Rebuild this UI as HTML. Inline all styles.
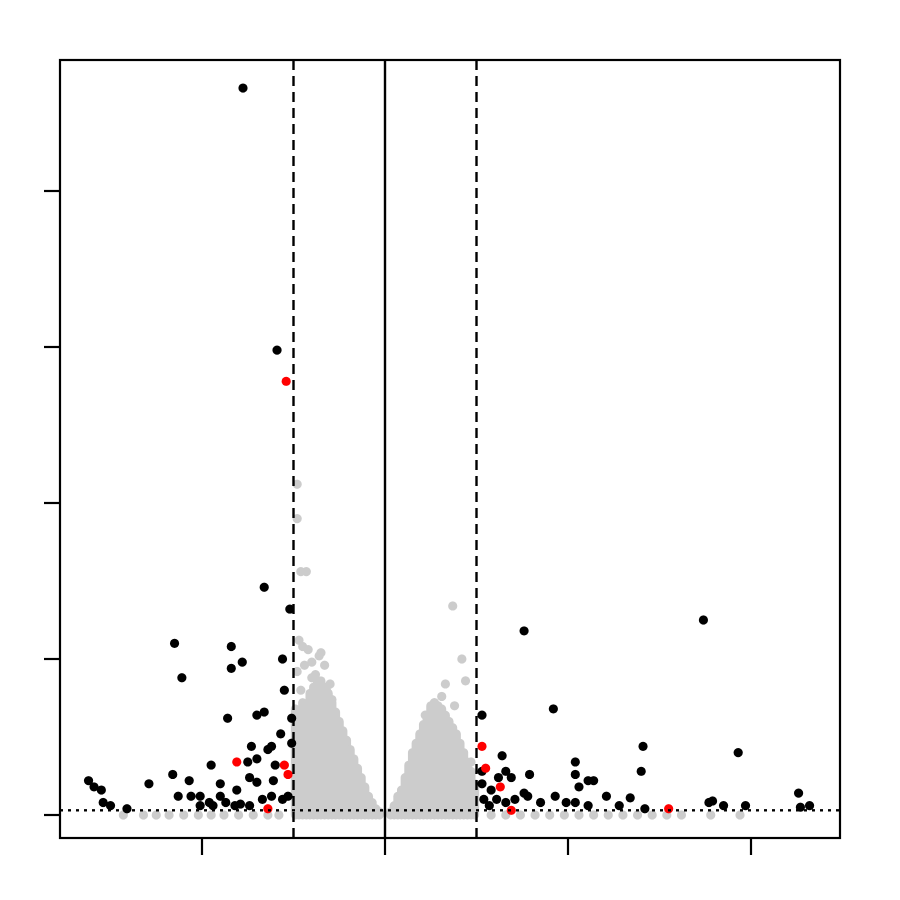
<!DOCTYPE html>
<html><head><meta charset="utf-8"><style>
html,body{margin:0;padding:0;background:#fff}
svg{display:block}
</style></head><body>
<svg id="chart" width="900" height="900" xmlns="http://www.w3.org/2000/svg">
<g id="marks"></g>
<g id="lines"></g>
<rect x="60" y="60" width="780" height="778" fill="none" stroke="#000" stroke-width="2.2"/>
<g id="axes"></g>
</svg>
<script>
// ---- data ----
const xTicks = [-1, 0, 1, 2];
const yTicks = [0, 5, 10, 15, 20];
const foldCut = [-0.5, 0.5];
const sigCut = 0.15;
// gray cloud column tops (x, top y)
const cloudX = [-0.49,-0.47,-0.45,-0.43,-0.41,-0.39,-0.37,-0.35,-0.33,-0.31,-0.29,-0.27,-0.25,-0.23,-0.21,-0.19,-0.17,-0.15,-0.13,-0.11,-0.09,-0.07,-0.05,-0.03,
 0.03,0.05,0.07,0.09,0.11,0.13,0.15,0.17,0.19,0.21,0.23,0.25,0.27,0.29,0.31,0.33,0.35,0.37,0.39,0.41,0.43,0.45,0.47,0.49];
const cloudTop = [3.4,3.0,3.6,3.3,3.9,4.1,4.2,4.3,4.1,3.9,3.6,3.3,3.0,2.7,2.4,2.1,1.8,1.5,1.2,0.9,0.6,0.4,0.2,0.1,
 0.1,0.3,0.6,0.8,1.2,1.6,2.0,2.3,2.6,2.9,3.2,3.5,3.6,3.5,3.4,3.2,3.0,2.8,2.6,2.3,2.0,1.7,1.4,1.0];
const grayX = [-0.48,-0.48,-0.46,-0.43,-0.47,-0.45,-0.42,-0.36,-0.37,-0.35,-0.38,-0.33,-0.40,-0.30,-0.44,-0.48,-0.46,-0.40,-0.32,-0.29,
 0.37,0.42,0.44,0.27,0.38,0.33,0.47,0.31,0.22,
 -1.43,-1.32,-1.25,-1.18,-1.10,-1.02,-0.95,-0.88,-0.80,-0.72,-0.64,-0.58,0.58,0.66,0.74,0.82,0.90,0.98,1.06,1.14,1.22,1.30,1.38,1.46,1.54,1.62,1.78,1.94];
const grayY = [10.6,9.5,7.8,7.8,5.6,5.4,5.3,5.1,4.3,5.2,4.5,4.8,4.4,4.2,4.8,4.6,4.0,4.9,4.0,3.7,
 6.7,5.0,4.3,3.6,3.5,4.2,1.7,3.8,3.2,
 0,0,0,0,0,0,0,0,0,0,0,0,0,0,0,0,0,0,0,0,0,0,0,0,0,0,0,0];
const blackX = [-0.776,-0.59,-0.66,-0.52,-1.15,-0.84,-0.78,-0.84,-0.56,-1.11,-0.55,-0.86,-0.70,-0.66,-0.51,-0.57,-0.62,-0.64,-0.73,-0.51,-0.95,-0.70,-0.75,-0.60,-1.16,-1.29,-1.62,-1.59,-1.55,-1.07,-0.90,-0.81,-0.74,-0.61,-0.70,-1.54,-1.50,-1.41,-1.13,-1.06,-1.01,-1.01,-0.96,-0.90,-0.87,-0.79,-0.74,-0.67,-0.56,-0.53,-0.62,-0.94,-0.82,
 0.76,1.74,0.92,0.53,1.41,1.93,1.04,0.64,1.40,1.04,0.79,0.66,0.53,0.62,0.69,1.11,1.14,1.06,0.53,0.58,0.76,0.78,0.93,1.21,1.34,2.26,1.79,1.77,1.85,1.97,2.27,2.32,0.61,0.66,0.71,0.85,0.99,1.04,1.11,1.28,1.42,0.54,0.57];
const blackY = [23.3,14.9,7.3,6.6,5.5,5.4,4.9,4.7,5.0,4.4,4.0,3.1,3.2,3.3,3.1,2.6,2.2,2.1,2.2,2.3,1.6,1.8,1.7,1.6,1.3,1.0,1.1,0.9,0.8,1.1,1.0,0.8,1.2,1.1,1.05,0.4,0.3,0.2,0.6,0.6,0.6,0.3,0.4,0.6,0.4,0.35,0.3,0.5,0.5,0.6,0.6,0.3,0.3,
 5.9,6.25,3.4,3.2,2.2,2.0,1.7,1.9,1.4,1.3,1.3,1.4,1.4,1.2,1.2,1.1,1.1,0.9,1.0,0.8,0.7,0.6,0.6,0.6,0.55,0.7,0.45,0.4,0.3,0.3,0.25,0.3,0.5,0.4,0.5,0.4,0.4,0.4,0.3,0.3,0.2,0.5,0.3];
const redX = [-0.54,-0.81,-0.55,-0.53,-0.64,0.53,0.55,0.63,0.69,1.55];
const redY = [13.9,1.7,1.6,1.3,0.2,2.2,1.5,0.9,0.15,0.2];

// ---- axis functions ----
const sx = v => 385 + 183 * v;
const sy = v => 815 - 31.2 * v;
const NS = 'http://www.w3.org/2000/svg';
const marks = document.getElementById('marks');
const lines = document.getElementById('lines');
const axes = document.getElementById('axes');
function mk(tag, attrs, parent){ const e=document.createElementNS(NS,tag); for(const k in attrs) e.setAttribute(k,attrs[k]); parent.appendChild(e); return e; }

cloudX.forEach((x,i)=>{
  const l = mk('line',{x1:sx(x),x2:sx(x),y1:sy(0),y2:sy(cloudTop[i]),stroke:'#cccccc','stroke-width':9,'stroke-linecap':'round'},marks);
  
  
});
grayX.forEach((x,i)=>{
  const c = mk('circle',{cx:sx(x),cy:sy(grayY[i]),r:4.6,fill:'#cccccc'},marks);
  
  
});
blackX.forEach((x,i)=>{
  const c = mk('circle',{cx:sx(x),cy:sy(blackY[i]),r:4.6,fill:'#000'},marks);
  
  
});
redX.forEach((x,i)=>{
  const c = mk('circle',{cx:sx(x),cy:sy(redY[i]),r:4.6,fill:'#ff0000'},marks);
  
  
});

foldCut.forEach(v=>{
  const l = mk('line',{x1:sx(v),x2:sx(v),y1:60,y2:838,stroke:'#000','stroke-width':2.4,'stroke-dasharray':'10,6'},lines);
  
  
});
const z = mk('line',{x1:sx(0),x2:sx(0),y1:60,y2:838,stroke:'#000','stroke-width':2.4},lines);


const h = mk('line',{x1:60,x2:840,y1:sy(sigCut),y2:sy(sigCut),stroke:'#000','stroke-width':2.4,'stroke-dasharray':'3,5'},lines);



xTicks.forEach(v=>{
  const t = mk('line',{x1:sx(v),x2:sx(v),y1:838,y2:855,stroke:'#000','stroke-width':2.2},axes);
  
  
});
yTicks.forEach(v=>{
  const t = mk('line',{x1:44,x2:60,y1:sy(v),y2:sy(v),stroke:'#000','stroke-width':2.2},axes);
  
  
});
</script>
</body></html>
